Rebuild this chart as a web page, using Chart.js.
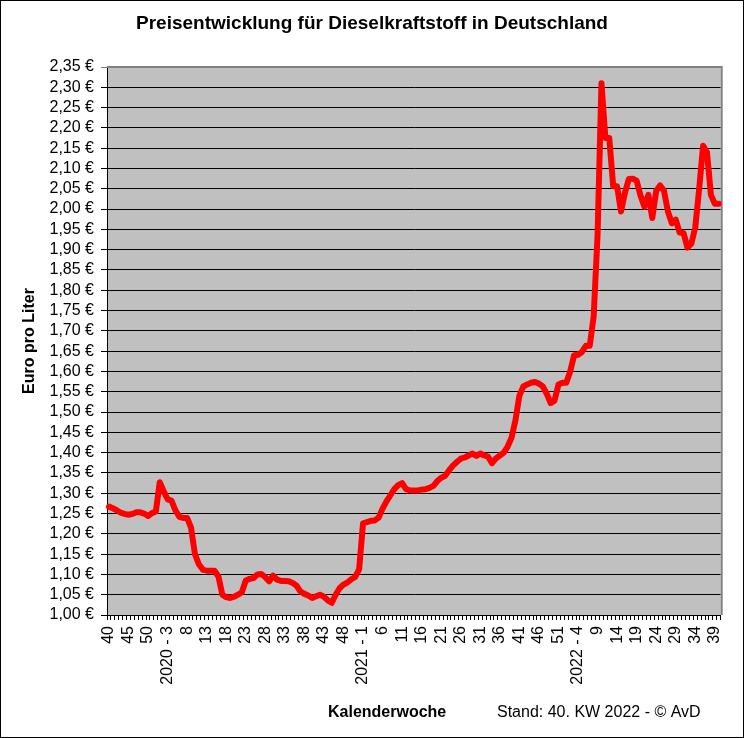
<!DOCTYPE html>
<html>
<head>
<meta charset="utf-8">
<script src="https://cdn.jsdelivr.net/npm/chart.js@4"></script>
<style>
  html, body { margin: 0; padding: 0; background: #fff; }
  canvas { display: block; }
</style>
</head>
<body>
<canvas id="c" width="744" height="738"></canvas>
<script>
// ---- Data ----
const chartTitle = 'Preisentwicklung für Dieselkraftstoff in Deutschland';
const yAxisTitle = 'Euro pro Liter';
const xAxisTitle = 'Kalenderwoche';
const footNote = 'Stand: 40. KW 2022 - © AvD';

// Kalenderwochen (KW 40/2019 bis KW 40/2022)
const weeks = [
  '40','41','42','43','44','45','46','47','48','49','50','51','52',
  '1','2','2020 - 3','4','5','6','7','8','9','10','11','12','13','14','15','16','17','18','19','20',
  '21','22','23','24','25','26','27','28','29','30','31','32','33','34','35','36','37','38','39','40',
  '41','42','43','44','45','46','47','48','49','50','51','52',
  '2021 - 1','2','3','4','5','6','7','8','9','10','11','12','13','14','15','16','17','18','19','20',
  '21','22','23','24','25','26','27','28','29','30','31','32','33','34','35','36','37','38','39','40',
  '41','42','43','44','45','46','47','48','49','50','51','52',
  '1','2','3','2022 - 4','5','6','7','8','9','10','11','12','13','14','15','16','17','18','19','20',
  '21','22','23','24','25','26','27','28','29','30','31','32','33','34','35','36','37','38','39','40'
];

// Dieselpreis in Euro pro Liter
const prices = [
  1.267,1.263,1.258,1.252,1.249,1.247,1.249,1.253,1.253,1.250,1.244,1.251,1.255,
  1.327,1.305,1.285,1.282,1.258,1.242,1.239,1.239,1.215,1.150,1.125,1.112,1.109,1.109,1.109,1.095,
  1.050,1.044,1.042,1.045,1.050,1.056,1.085,1.089,1.091,1.100,1.101,1.093,1.083,1.097,1.087,1.084,
  1.084,1.083,1.079,1.072,1.058,1.052,1.048,1.042,1.046,1.050,1.045,1.036,1.030,1.050,1.066,1.075,
  1.080,1.088,1.094,1.112,
  1.226,1.229,1.232,1.233,1.240,1.262,1.280,1.295,1.310,1.320,1.325,1.310,1.307,1.307,1.307,1.309,
  1.310,1.313,1.318,1.330,1.338,1.343,1.356,1.368,1.377,1.385,1.388,1.393,1.398,1.392,1.398,1.393,
  1.390,1.374,1.386,1.393,1.400,1.415,1.437,1.480,1.540,1.563,1.568,1.572,1.574,1.570,1.563,1.545,
  1.522,1.528,1.568,1.572,
  1.572,1.600,1.640,1.641,1.648,1.663,1.663,1.735,1.935,2.310,2.175,2.175,2.056,2.056,1.994,2.040,
  2.074,2.075,2.070,2.033,2.006,2.035,1.978,2.045,2.058,2.045,1.994,1.965,1.974,1.942,1.941,1.905,
  1.915,1.955,2.050,2.156,2.140,2.035,2.013,2.013
];

const yMin = 1.00, yMax = 2.35, yStep = 0.05;

const FONT = "'Liberation Sans', Arial, sans-serif";

const decorPlugin = {
  id: 'decor',
  beforeDraw(chart) {
    const ctx = chart.ctx, a = chart.chartArea;
    ctx.save();
    ctx.fillStyle = '#ffffff';
    ctx.fillRect(0, 0, chart.width, chart.height);
    ctx.fillStyle = '#C0C0C0';
    ctx.fillRect(a.left, a.top, a.right - a.left, a.bottom - a.top);
    ctx.restore();
  },
  beforeDatasetsDraw(chart) {
    const ctx = chart.ctx, a = chart.chartArea;
    ctx.save();
    ctx.strokeStyle = '#808080';
    ctx.lineWidth = 2;
    ctx.beginPath();
    ctx.moveTo(a.left, a.top);
    ctx.lineTo(a.right + 1, a.top);
    ctx.lineTo(a.right + 1, a.bottom);
    ctx.stroke();
    ctx.restore();
  },
  afterDraw(chart) {
    const ctx = chart.ctx, a = chart.chartArea;
    ctx.save();
    ctx.fillStyle = '#000';
    // main title
    ctx.font = 'bold 19px ' + FONT;
    ctx.textAlign = 'center';
    ctx.textBaseline = 'alphabetic';
    ctx.fillText(chartTitle, chart.width / 2, 29);
    // y axis title
    ctx.save();
    ctx.translate(30, (a.top + a.bottom) / 2);
    ctx.rotate(-Math.PI / 2);
    ctx.font = 'bold 16px ' + FONT;
    ctx.textAlign = 'center';
    ctx.textBaseline = 'middle';
    ctx.fillText(yAxisTitle, 0, 0);
    ctx.restore();
    // x axis title and foot note
    ctx.textAlign = 'left';
    ctx.textBaseline = 'alphabetic';
    ctx.font = 'bold 16px ' + FONT;
    ctx.fillText(xAxisTitle, 328, 717);
    ctx.font = '16px ' + FONT;
    ctx.fillText(footNote, 497, 717);
    // outer frame
    ctx.strokeStyle = '#000';
    ctx.lineWidth = 1;
    ctx.strokeRect(0.5, 0.5, chart.width - 1, chart.height - 1);
    ctx.restore();
  }
};

new Chart(document.getElementById('c'), {
  type: 'line',
  data: {
    labels: weeks,
    datasets: [{
      label: 'Diesel',
      data: prices,
      borderColor: '#FF0000',
      backgroundColor: '#FF0000',
      borderWidth: 6,
      pointRadius: 0,
      tension: 0,
      fill: false,
      borderJoinStyle: 'round',
      borderCapStyle: 'round'
    }]
  },
  options: {
    responsive: false,
    animation: false,
    devicePixelRatio: 1,
    layout: { padding: { left: 0, top: 67, right: 22, bottom: 43 } },
    plugins: {
      legend: { display: false },
      tooltip: { enabled: false },
      title: { display: false }
    },
    scales: {
      x: {
        type: 'category',
        offset: true,
        grid: { display: true, drawOnChartArea: false, drawTicks: true, tickLength: 5, color: '#000', offset: true },
        border: { display: true, color: '#000', width: 1 },
        ticks: {
          autoSkip: false,
          maxRotation: 90,
          minRotation: 90,
          padding: 6,
          color: '#000',
          font: { family: FONT, size: 16 },
          callback: (v, i) => (i % 5 === 0 ? weeks[i] : '')
        },
        afterFit: s => { s.height = 80; }
      },
      y: {
        min: yMin,
        max: yMax,
        grid: {
          color: c => (c.tick && c.tick.value >= yMax - 1e-6 ? '#808080' : '#000'),
          lineWidth: 1,
          tickLength: 6,
          drawTicks: true
        },
        border: { display: true, color: '#000', width: 1 },
        ticks: {
          autoSkip: false,
          stepSize: yStep,
          padding: 7,
          color: '#000',
          font: { family: FONT, size: 16 },
          callback: v => v.toFixed(2).replace('.', ',') + ' €'
        },
        afterFit: s => { s.width = 107; }
      }
    }
  },
  plugins: [decorPlugin]
});
</script>
</body>
</html>
